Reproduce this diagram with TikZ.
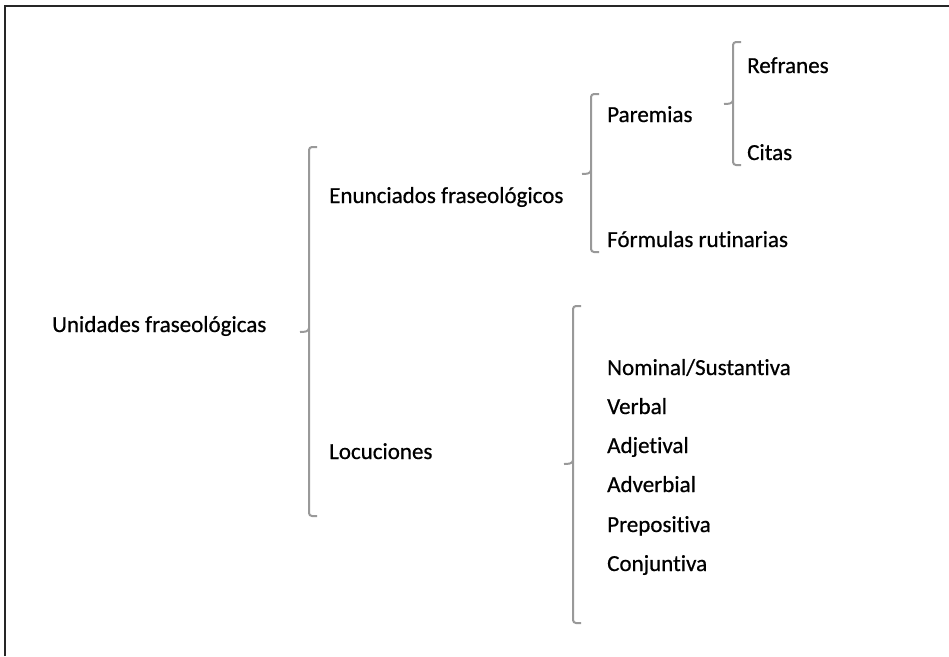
\documentclass[tikz,border=0pt]{standalone}
\usepackage{fontspec}
\setmainfont[FakeBold=0.6,Ligatures=CommonOff]{Carlito}
\begin{document}
\begin{tikzpicture}[x=1pt,y=-1pt,
  lbl/.style={anchor=base west,inner sep=0pt,font=\fontsize{23}{27}\selectfont},
  brk/.style={draw=black!40,line width=2pt,rounded corners=3pt},
  tip/.style={draw=black!40,line width=2pt},
  frame/.style={draw=black!85,line width=2pt}]
\useasboundingbox (0,0) rectangle (949,656);
\fill[white] (0,0) rectangle (949,656);
\draw[frame] (4.5,656) -- (4.5,5.5) -- (949,5.5);
% labels
\node[lbl] (uf) at (52,332) {Unidades fraseológicas};
\node[lbl] (ef) at (329,203) {Enunciados fraseológicos};
\node[lbl] (lo) at (329,459) {Locuciones};
\node[lbl] (pa) at (607,122) {Paremias};
\node[lbl] (fr) at (607,247) {Fórmulas rutinarias};
\node[lbl] (re) at (747,73) {Refranes};
\node[lbl] (ci) at (747,160) {Citas};
\node[lbl] (no) at (607,375) {Nominal/Sustantiva};
\node[lbl] (ve) at (607,414) {Verbal};
\node[lbl] (adj) at (607,453) {Adjetival};
\node[lbl] (adv) at (607,492) {Adverbial};
\node[lbl] (pr) at (607,532) {Prepositiva};
\node[lbl] (co) at (607,571) {Conjuntiva};
% brackets
\draw[brk] (317,147) -- (309,147) -- (309,516) -- (317,516);
\draw[tip] (300,332) to[out=0,in=-90] (309,328);
\draw[brk] (599,94) -- (591,94) -- (591,252) -- (599,252);
\draw[tip] (582,174) to[out=0,in=-90] (591,170);
\draw[brk] (741,42) -- (733,42) -- (733,165) -- (741,165);
\draw[tip] (724,104) to[out=0,in=-90] (733,100);
\draw[brk] (581,306) -- (573,306) -- (573,623) -- (581,623);
\draw[tip] (564,464) to[out=0,in=-90] (573,460);
\end{tikzpicture}
\end{document}
